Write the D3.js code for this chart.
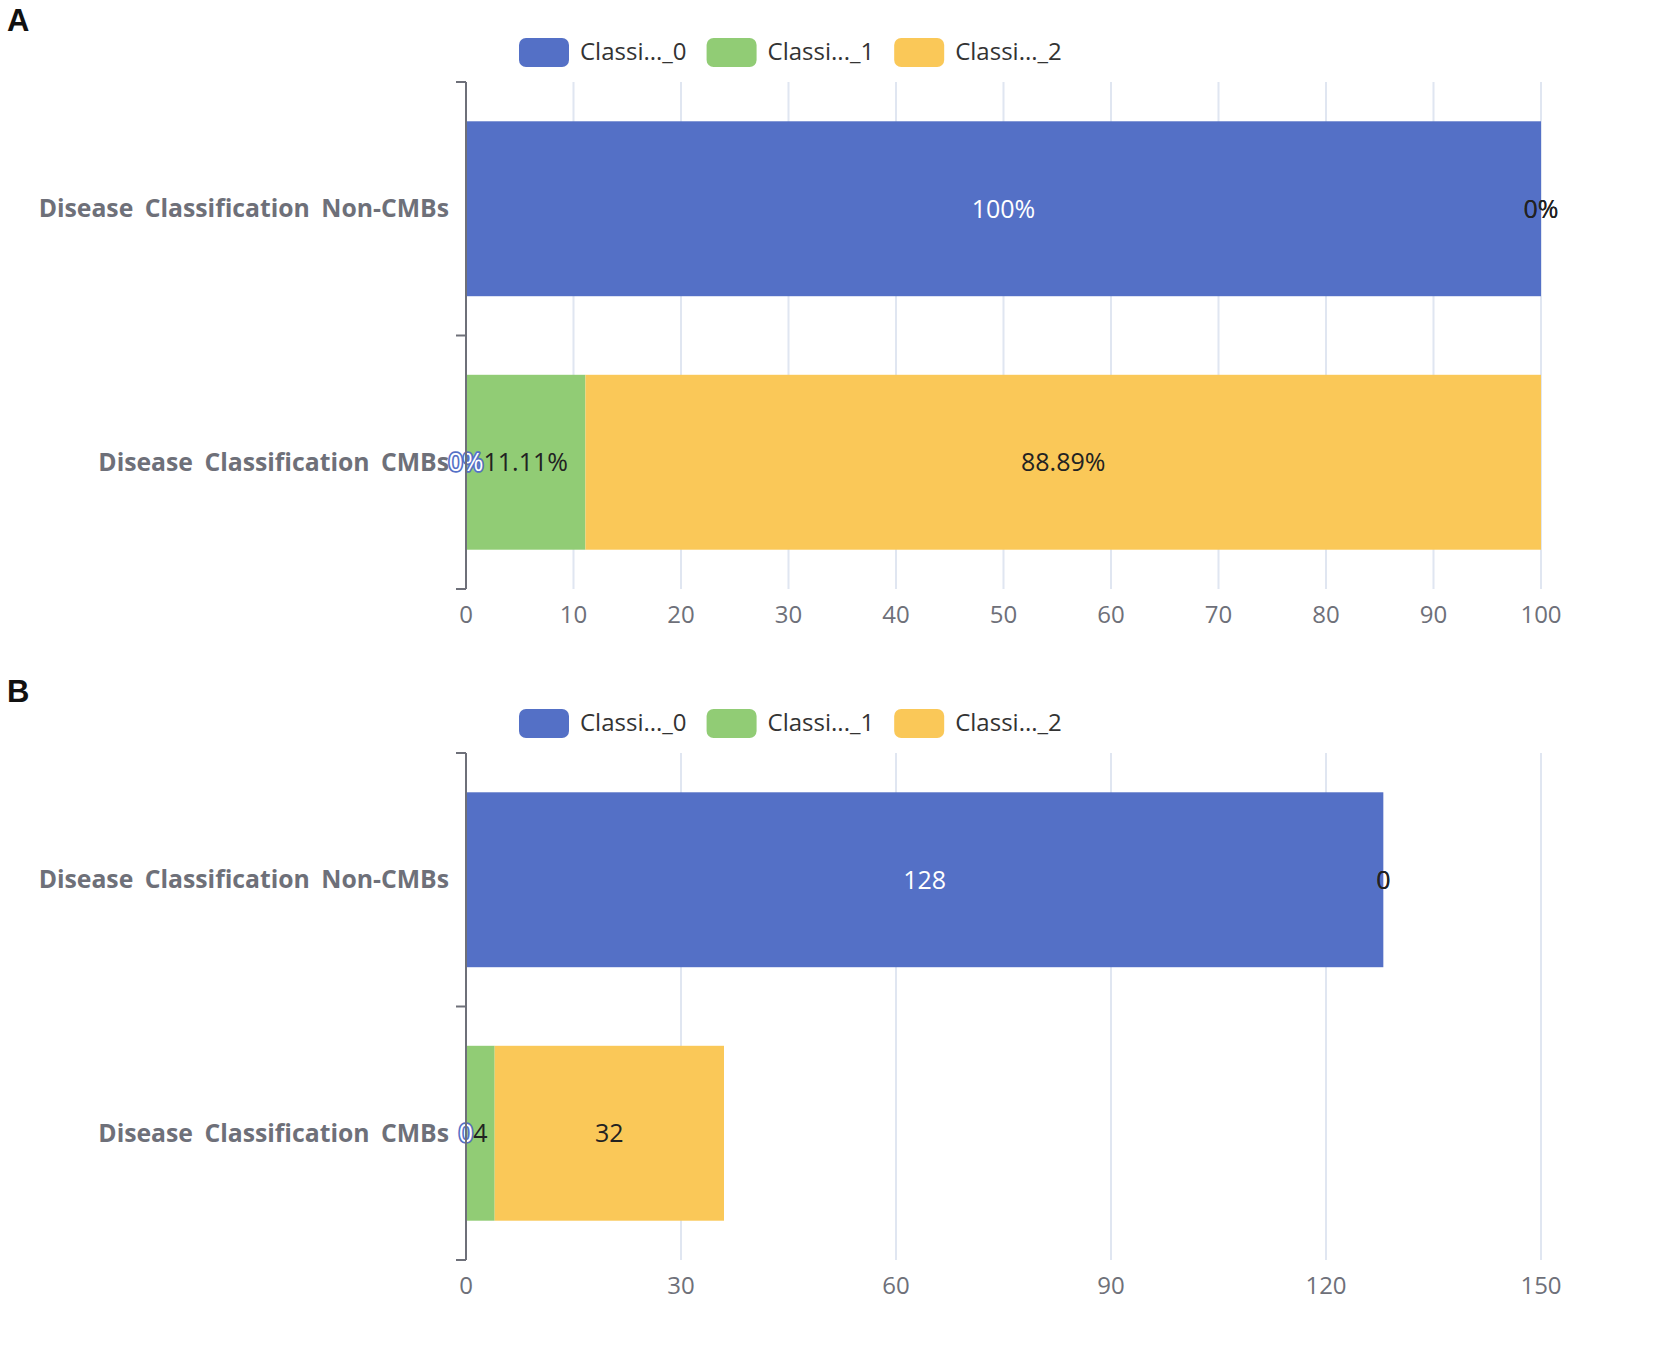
<!DOCTYPE html>
<html>
<head>
<meta charset="utf-8">
<script src="https://cdn.jsdelivr.net/npm/d3@7"></script>
<style>
  html, body { margin: 0; padding: 0; background: #fff; }
  svg { display: block; }
  text { font-family: "Open Sans", "Noto Sans", sans-serif; }
</style>
</head>
<body>
<svg id="chart" width="1654" height="1372"></svg>
<script>
// ---- Data ----
const categories = ["Disease Classification Non-CMBs", "Disease Classification CMBs"];
const seriesNames = ["Classi..._0", "Classi..._1", "Classi..._2"];
const seriesColors = ["#5470C6", "#91CC75", "#FAC858"];

const percentClass0 = [100, 0];
const percentClass1 = [0, 11.11];
const percentClass2 = [0, 88.89];

const countClass0 = [128, 0];
const countClass1 = [0, 4];
const countClass2 = [0, 32];

const percentTicks = [0, 10, 20, 30, 40, 50, 60, 70, 80, 90, 100];
const countTicks = [0, 30, 60, 90, 120, 150];

const panelLetters = ["A", "B"];

// ---- Drawing ----
const svg = d3.select("#chart");
const axisColor = "#6E7079";
const gridColor = "#E0E6F1";

function drawPanel(offsetY, letter, seriesValues, ticks, fmt) {
  const g = svg.append("g").attr("transform", `translate(0,${offsetY})`);

  // panel letter
  g.append("text")
    .attr("x", 7).attr("y", 31)
    .style("font-family", "'Liberation Sans', Arial, sans-serif")
    .style("font-weight", "bold")
    .style("font-size", "31px")
    .attr("fill", "#111")
    .text(letter);

  const left = 466, right = 1541, top = 82, bottom = 589;
  const x = d3.scaleLinear().domain([ticks[0], ticks[ticks.length - 1]]).range([left, right]);
  const y = d3.scaleBand().domain(categories).range([top, bottom]).paddingInner(0).paddingOuter(0);
  const barH = y.bandwidth() * 0.69;

  // grid lines
  g.append("g").selectAll("line").data(ticks.slice(1)).join("line")
    .attr("x1", d => x(d)).attr("x2", d => x(d))
    .attr("y1", top).attr("y2", bottom)
    .attr("stroke", gridColor).attr("stroke-width", 2);

  // x tick labels
  g.append("g").selectAll("text").data(ticks).join("text")
    .attr("x", d => x(d)).attr("y", bottom + 34)
    .attr("text-anchor", "middle")
    .attr("fill", axisColor)
    .style("font-size", "24px")
    .text(d => d);

  // stacked bars
  const stackData = categories.map((c, i) => {
    const o = { cat: c };
    seriesNames.forEach((n, k) => o[n] = seriesValues[k][i]);
    return o;
  });
  const stacked = d3.stack().keys(seriesNames)(stackData);

  stacked.forEach((layer, k) => {
    g.append("g").selectAll("rect").data(layer).join("rect")
      .attr("x", d => x(d[0]))
      .attr("width", d => Math.max(0, x(d[1]) - x(d[0])))
      .attr("y", d => y(d.data.cat) + (y.bandwidth() - barH) / 2)
      .attr("height", barH)
      .attr("fill", seriesColors[k]);
  });

  // labels
  stacked.forEach((layer, k) => {
    g.append("g").selectAll("text").data(layer).join("text")
      .attr("x", d => (x(d[0]) + x(d[1])) / 2)
      .attr("y", d => y(d.data.cat) + y.bandwidth() / 2)
      .attr("dy", "0.35em")
      .attr("text-anchor", "middle")
      .style("font-size", "25px")
      .attr("fill", k === 0 ? "#fff" : "#222")
      .attr("stroke", k === 0 ? seriesColors[0] : "none")
      .attr("stroke-width", k === 0 ? 3.5 : 0)
      .attr("stroke-linejoin", "round")
      .style("paint-order", "stroke")
      .text(d => fmt(d.data[layer.key]));
  });

  // y axis line and ticks
  g.append("line")
    .attr("x1", left).attr("x2", left).attr("y1", top).attr("y2", bottom)
    .attr("stroke", axisColor).attr("stroke-width", 2);
  const boundaries = [top].concat(categories.map(c => y(c) + y.bandwidth()));
  g.append("g").selectAll("line").data(boundaries).join("line")
    .attr("x1", left - 10).attr("x2", left)
    .attr("y1", d => d).attr("y2", d => d)
    .attr("stroke", axisColor).attr("stroke-width", 2);

  // y labels (fit the reference width of the longest label)
  const ylab = g.append("g").selectAll("text").data(categories).join("text")
    .attr("x", left - 17)
    .attr("y", d => y(d) + y.bandwidth() / 2)
    .attr("dy", "0.35em")
    .attr("text-anchor", "end")
    .attr("fill", axisColor)
    .style("font-size", "24px")
    .style("font-weight", "bold")
    .style("word-spacing", "5px")
    .text(d => d);
  const maxW = d3.max(ylab.nodes(), n => n.getComputedTextLength());
  const fs = Math.min(27, 24 * 411 / maxW);
  ylab.style("font-size", fs + "px");

  // legend
  const lg = g.append("g");
  let cx = 519;
  seriesNames.forEach((n, k) => {
    lg.append("rect")
      .attr("x", cx).attr("y", 38).attr("width", 50).attr("height", 29)
      .attr("rx", 7).attr("fill", seriesColors[k]);
    const t = lg.append("text")
      .attr("x", cx + 61).attr("y", 52).attr("dy", "0.35em")
      .attr("fill", "#333")
      .style("font-size", "24px")
      .text(n);
    const w = t.node().getComputedTextLength();
    cx = cx + 61 + w + 20;
  });
}

drawPanel(0, panelLetters[0], [percentClass0, percentClass1, percentClass2], percentTicks, v => v + "%");
drawPanel(671, panelLetters[1], [countClass0, countClass1, countClass2], countTicks, v => String(v));
</script>
</body>
</html>
